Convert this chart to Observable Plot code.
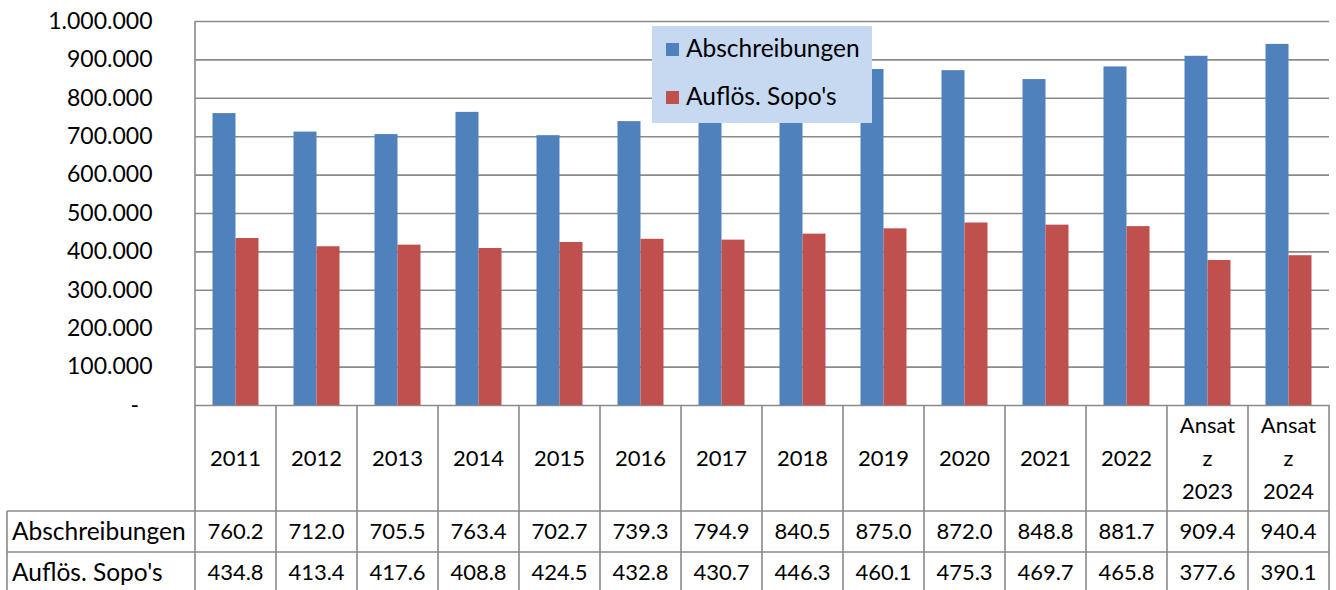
<!DOCTYPE html>
<html><head><meta charset="utf-8">
<script src="https://cdn.jsdelivr.net/npm/d3@7"></script>
<script src="https://cdn.jsdelivr.net/npm/@observablehq/plot@0.6"></script>
<style>html,body{margin:0;padding:0;background:#fff;overflow:hidden} svg{display:block}</style>
</head><body><div id="chart"></div>
<script>
const categories = ["2011","2012","2013","2014","2015","2016","2017","2018","2019","2020","2021","2022","Ansatz 2023","Ansatz 2024"];
const headerLabels = ["2011","2012","2013","2014","2015","2016","2017","2018","2019","2020","2021","2022","Ansat\nz\n2023","Ansat\nz\n2024"];
const seriesNames = ["Abschreibungen","Auflös. Sopo's"];
const abschreibungen = [760.2,712.0,705.5,763.4,702.7,739.3,794.9,840.5,875.0,872.0,848.8,881.7,909.4,940.4];
const aufloesSopos = [434.8,413.4,417.6,408.8,424.5,432.8,430.7,446.3,460.1,475.3,469.7,465.8,377.6,390.1];
const seriesColors = ["#4f81bd","#c0504d"];
const yTicks = [0,100000,200000,300000,400000,500000,600000,700000,800000,900000,1000000];

const seriesValues = [abschreibungen, aufloesSopos];
const rows = [];
categories.forEach((c,i) => {
  seriesNames.forEach((s,j) => rows.push({category:c, series:s, value: seriesValues[j][i]*1000}));
});

const de = d3.formatLocale({decimal:",", thousands:".", grouping:[3], currency:["","€"]});
const fmt = de.format(",d");
const fmtY = v => v === 0 ? "-\u2007" : fmt(v);

const W = 1336, H = 590;
const FONT = "Lato, 'Open Sans', sans-serif";
const GRID = "#8a8a8a";

const plot = Plot.plot({
  width: W, height: H,
  marginLeft: 194.5, marginRight: 7.5, marginTop: 21, marginBottom: 185,
  style: {fontFamily: FONT, fontSize: "23px", color: "#000", background: "#fff", overflow: "visible"},
  facet: {data: rows, x: "category"},
  fx: {domain: categories, paddingInner: 0, paddingOuter: 0, axis: null, label: null},
  x: {domain: seriesNames, paddingInner: 0, paddingOuter: 0.76, axis: null, label: null},
  y: {domain: [0, 1000000], ticks: yTicks, tickSize: 0, tickPadding: 43, tickFormat: fmtY, label: null},
  color: {domain: seriesNames, range: seriesColors},
  marks: [
    Plot.ruleY(yTicks, {stroke: GRID, strokeWidth: 1.6}),
    Plot.barY(rows, {x: "series", y: "value", fill: "series"})
  ]
});
document.getElementById("chart").appendChild(plot);

// Data table + frame lines, positioned with the plot's own scales
const svg = d3.select(plot);
const fx = plot.scale("fx"), y = plot.scale("y"), color = plot.scale("color");
const bw = fx.bandwidth;
const x0 = fx.apply(categories[0]);
const xEnd = fx.apply(categories[categories.length-1]) + bw;
const yBase = y.apply(0), yTop = y.apply(1000000);
const headH = 106, rowH = 41, leftX = 7;
const row1 = yBase + headH, row2 = row1 + rowH;

const g = svg.append("g").attr("font-family", FONT).attr("font-size", 22).attr("fill", "#000");
const line = (x1,y1,x2,y2) => g.append("line").attr("x1",x1).attr("y1",y1).attr("x2",x2).attr("y2",y2)
  .attr("stroke", GRID).attr("stroke-width", 1.6);

line(x0, yTop, x0, H);
categories.forEach(c => line(fx.apply(c)+bw, yBase, fx.apply(c)+bw, H));
line(leftX, row1, xEnd, row1);
line(leftX, row2, xEnd, row2);
line(leftX, row1, leftX, H);

categories.forEach((c,i) => {
  const cx = fx.apply(c) + bw/2;
  const lines = headerLabels[i].split("\n");
  const lh = 33;
  lines.forEach((t,k) => {
    g.append("text").attr("x", cx).attr("y", (yBase+row1)/2 + (k-(lines.length-1)/2)*lh)
      .attr("dy","0.35em").attr("text-anchor","middle").text(t);
  });
  seriesValues.forEach((vals,j) => {
    g.append("text").attr("x", cx).attr("y", row1 + rowH*j + rowH/2)
      .attr("dy","0.35em").attr("text-anchor","middle").text(vals[i].toFixed(1));
  });
});
seriesNames.forEach((s,j) => {
  g.append("text").attr("x", leftX+5).attr("y", row1 + rowH*j + rowH/2)
    .attr("dy","0.35em").attr("text-anchor","start").attr("font-size", 24.5).text(s);
});

// Legend
const lg = svg.append("g").attr("font-family", FONT).attr("font-size", 24.5).attr("text-anchor","start");
lg.append("rect").attr("x",652).attr("y",26).attr("width",220).attr("height",97).attr("fill","#c6d9f1");
color.domain.forEach((s,j) => {
  const by = 57 + j*48;
  lg.append("rect").attr("x",666).attr("y",by-14).attr("width",13).attr("height",13).attr("fill",color.apply(s));
  lg.append("text").attr("x",686).attr("y",by).attr("fill","#000").attr("text-anchor","start").text(s);
});
</script>
</body></html>
